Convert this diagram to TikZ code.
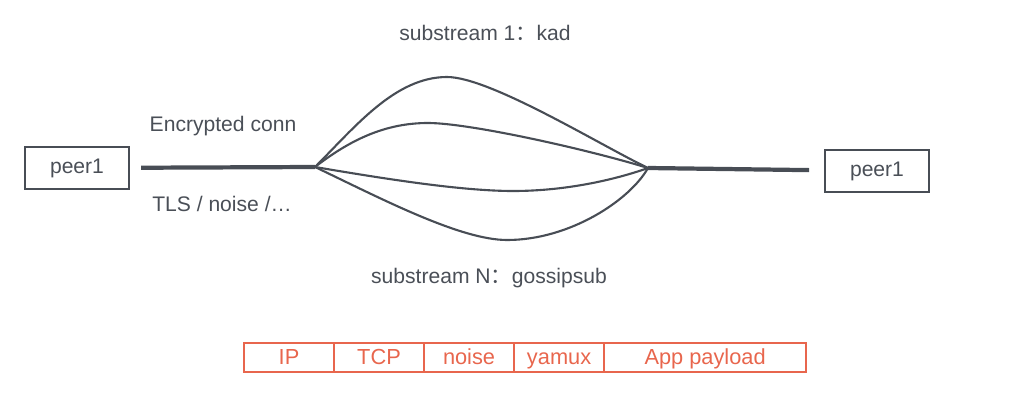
\documentclass[tikz,border=0pt]{standalone}
\usepackage{fontspec}
\setmainfont{Liberation Sans}
\newfontfamily\cjk{Noto Sans CJK SC}
\usetikzlibrary{positioning}
\definecolor{linegray}{RGB}{72,77,85}
\definecolor{textgray}{RGB}{74,79,87}
\definecolor{stackred}{RGB}{232,102,77}

\tikzset{
  peerbox/.style={rectangle, draw=linegray, line width=1.4pt, minimum width=2.6cm, minimum height=1.05cm, text=textgray, font=\fontsize{15}{18}\selectfont},
  lbl/.style={text=textgray, font=\fontsize{15}{18}\selectfont},
  conn/.style={linegray, line width=3pt},
  sub/.style={linegray, line width=1.5pt},
  layer/.style={rectangle, draw=stackred, line width=1.4pt, minimum height=0.725cm, minimum width=2.25cm, inner sep=0pt, outer sep=0pt, text height=12pt, text depth=2pt, text=stackred, font=\fontsize{15.5}{18}\selectfont}
}

\begin{document}
\begin{tikzpicture}[x=0.025cm, y=-0.025cm]
\useasboundingbox (0,0) rectangle (1032,402);

% peers
\node[peerbox] (peerl) at (77,168) {peer1};
\node[peerbox] (peerr) at (877,171) {peer1};

% split points of the connection
\coordinate (split) at (315,167);
\coordinate (merge) at (648,168);

\draw[conn, shorten <=0.28cm] (peerl) -- (split);
\draw[conn, shorten >=0.37cm] (merge) -- (peerr);

% substreams
\draw[sub] (split) .. controls (355,127) and (395,77) .. (447,77)
  .. controls (490,77) and (600,145) .. (merge);
\draw[sub] (split) .. controls (350,140) and (385,123) .. (428,123)
  .. controls (470,123) and (590,150) .. (merge);
\draw[sub] (split) .. controls (380,178) and (460,191) .. (513,191)
  .. controls (570,191) and (620,178) .. (merge);
\draw[sub] (split) .. controls (380,198) and (460,240) .. (507,240)
  .. controls (570,240) and (630,200) .. (merge);

\node[lbl] (enc) at (223,126) {Encrypted conn};
\node[lbl] (tls) at (222,204) {TLS / noise /…};
\node[lbl] (sub1) at (485,33) {substream 1{\cjk ：}kad};
\node[lbl] (subn) at (489,278) {substream N{\cjk ：}gossipsub};

% packet layers
\node[layer, anchor=west] (ip) at (244,357.5) {IP};
\node[layer, right=0pt of ip] (tcp) {TCP};
\node[layer, right=0pt of tcp] (noise) {noise};
\node[layer, right=0pt of noise] (yamux) {yamux};
\node[layer, right=0pt of yamux, minimum width=5.05cm] (app) {App payload};
\end{tikzpicture}
\end{document}
